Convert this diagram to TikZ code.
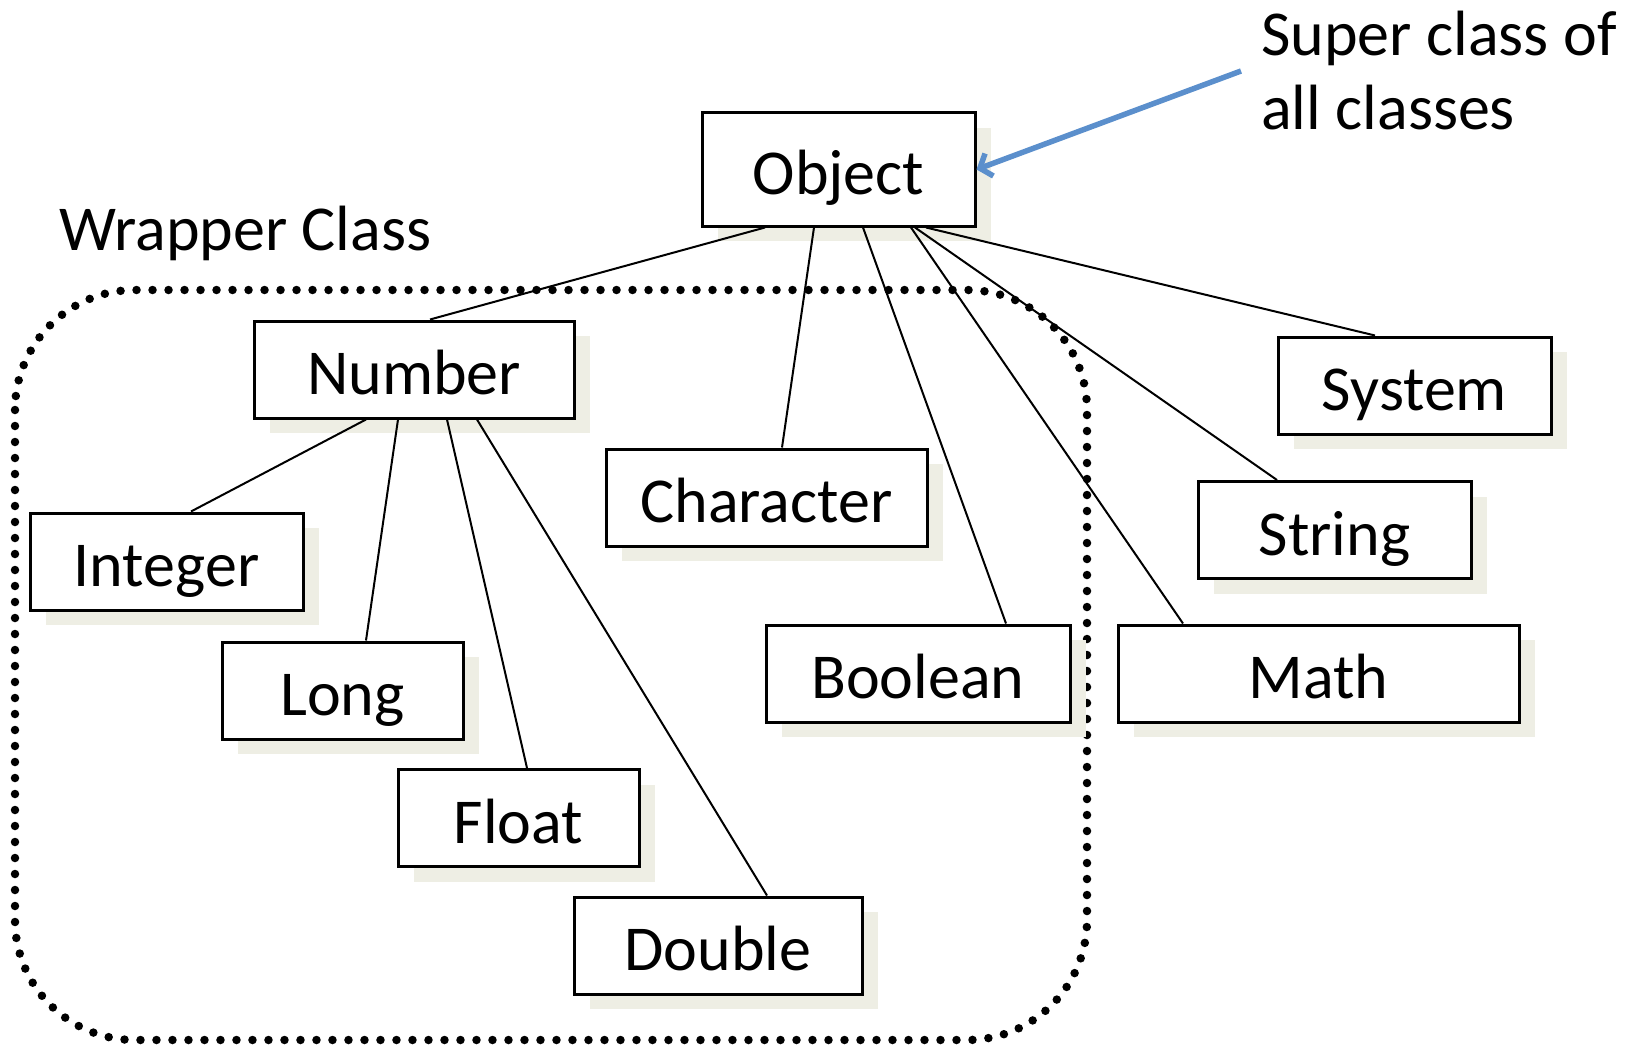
\documentclass[tikz,border=0pt]{standalone}
\usepackage{fontspec}
\setmainfont{Carlito}
\usetikzlibrary{shadows,arrows.meta}
\definecolor{shade}{RGB}{238,238,228}
\definecolor{arrowblue}{RGB}{91,143,204}

\begin{document}
\begin{tikzpicture}[x=1pt,y=-1pt,font=\fontsize{64}{74}\selectfont]
  \tikzstyle{cls} = [draw,line width=3pt,fill=white,inner sep=0pt,minimum height=97pt,
    text height=50pt,text depth=0pt,
    drop shadow={shadow xshift=16pt,shadow yshift=-15pt,fill=shade,draw=none,opacity=1}]
  \tikzstyle{plain} = [anchor=west,inner sep=0pt,align=left]
  \tikzstyle{link} = [draw,line width=2pt]
  \useasboundingbox (0,0) rectangle (1631,1046);
  % wrapper class region
  \draw[line width=8.5pt,line cap=round,dash pattern=on 0pt off 16pt,rounded corners=120pt]
    (15,290) rectangle (1087,1040);
  \node (wrap) [plain] at (59,233) {Wrapper Class};
  \node (note) [plain] at (1261,71) {Super class of\\all classes};
  % classes
  \node (obj) [cls,minimum width=273pt,minimum height=113pt] at (838.5,169.5) {Object};
  \node (num) [cls,minimum width=320pt] at (414,369.5) {Number};
  \node (int) [cls,minimum width=273pt] at (166.5,561.5) {Integer};
  \node (long) [cls,minimum width=241pt] at (342.5,690.5) {Long};
  \node (flt) [cls,minimum width=241pt] at (518.5,818) {Float};
  \node (dbl) [cls,minimum width=288pt] at (718,945.5) {Double};
  \node (chr) [cls,minimum width=321pt] at (766.5,497.5) {Character};
  \node (bool) [cls,minimum width=304pt] at (918,673.5) {Boolean};
  \node (math) [cls,minimum width=401pt] at (1318.5,673.5) {Math};
  \node (str) [cls,minimum width=273pt] at (1334.5,530) {String};
  \node (sys) [cls,minimum width=273pt] at (1414.5,385.5) {System};
  % inheritance lines
  \path[link] ([xshift=-73.5pt]obj.south) -- ([xshift=16pt]num.north);
  \path[link] ([xshift=-24.5pt]obj.south) -- ([xshift=15.5pt]chr.north);
  \path[link] ([xshift=24.5pt]obj.south) -- ([xshift=88pt]bool.north);
  \path[link] ([xshift=72.5pt]obj.south) -- ([xshift=-135.5pt]math.north);
  \path[link] ([xshift=76.5pt]obj.south) -- ([xshift=-57.5pt]str.north);
  \path[link] ([xshift=87.5pt]obj.south) -- ([xshift=-39.5pt]sys.north);
  \path[link] ([xshift=-48pt]num.south) -- ([xshift=24.5pt]int.north);
  \path[link] ([xshift=-16pt]num.south) -- ([xshift=23.5pt]long.north);
  \path[link] ([xshift=33pt]num.south) -- ([xshift=8.5pt]flt.north);
  \path[link] ([xshift=63pt]num.south) -- ([xshift=49pt]dbl.north);
  % pointer to object
  \draw[arrowblue,line width=5.5pt,-{Straight Barb[length=10pt,width=24pt]}] ([xshift=-20pt]note.west) -- (obj.east);
\end{tikzpicture}
\end{document}
